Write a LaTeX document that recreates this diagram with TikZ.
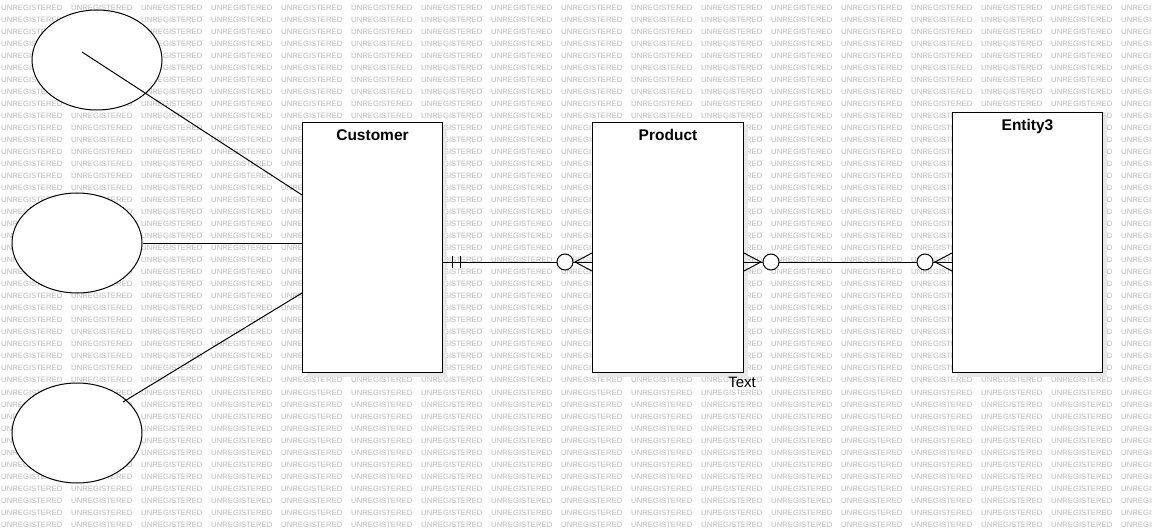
\documentclass[tikz,border=0pt]{standalone}
\usepackage{fontspec}
\setmainfont{Liberation Sans}
\usetikzlibrary{shapes.geometric}
\begin{document}
\begin{tikzpicture}[x=1pt,y=-1pt,
  wm/.style={text=black!27,font=\fontsize{7.7}{8}\selectfont,inner sep=0pt,anchor=west},
  entity/.style={draw,line width=1pt,fill=white,rectangle,anchor=north west,inner sep=0pt,
    preaction={draw=none,fill=black!9,transform canvas={shift={(4pt,-4pt)}}}},
  etitle/.style={font=\bfseries\fontsize{15.5}{18}\selectfont,anchor=north,inner sep=5pt,yshift=-2.5pt},
  attr/.style={draw,line width=1pt,fill=white,ellipse,inner sep=0pt,minimum width=130pt,minimum height=100pt},
  conn/.style={line width=1pt},
  opt/.style={draw,line width=1pt,fill=white},
]
\useasboundingbox (0,0) rectangle (1152,532);
\fill[white] (0,0) rectangle (1152,532);
% tiled background stamp
\begin{scope}
\clip (0,0) rectangle (1152,532);
\foreach \r in {0,...,44}
  \foreach \c in {0,...,16}
    \node[wm] (wm-\r-\c) at (\c*70+1, \r*12.03+7.4) {UNREGISTERED};
\end{scope}

% attributes
\node[attr] (a1) at (97,60) {};
\node[attr] (a2) at (77,243) {};
\node[attr] (a3) at (77,433) {};

% entities
\node[entity,minimum width=140pt,minimum height=250pt,
  label={[etitle]north:Customer}] (cust) at (302,122) {};
\node[entity,minimum width=151pt,minimum height=250pt,
  label={[etitle]north:Product}] (prod) at (592,122) {};
\node[entity,minimum width=150pt,minimum height=260pt,
  label={[etitle]north:Entity3}] (ent3) at (952,112) {};

% attribute links
\coordinate (a1in) at (82,52);
\coordinate (a3in) at (123,402);
\draw[conn] (a1in) -- ([yshift=-73pt]cust.north west);
\draw[conn] (a2.east) -- (cust.west |- a2.east);
\draw[conn] (a3in) -- ([yshift=-171pt]cust.north west);

% Customer -- Product : one and only one  /  zero or many
\coordinate (r1s) at ([yshift=-140pt]cust.north east);
\coordinate (r1e) at (prod.west |- r1s);
\draw[conn] (r1s) -- (r1e);
\draw[conn] ([xshift=9pt,yshift=6pt]r1s) -- ([xshift=9pt,yshift=-6pt]r1s);
\draw[conn] ([xshift=17pt,yshift=6pt]r1s) -- ([xshift=17pt,yshift=-6pt]r1s);
\draw[conn] ([yshift=9pt]r1e) -- ([xshift=-17pt]r1e) -- ([yshift=-9pt]r1e);
\draw[opt] ([xshift=-27pt]r1e) circle[radius=8pt];

% Product -- Entity3 : zero or many on both ends
\coordinate (r2s) at (prod.east |- r1s);
\coordinate (r2e) at (ent3.west |- r1s);
\draw[conn] (r2s) -- (r2e);
\draw[conn] ([yshift=9pt]r2s) -- ([xshift=17pt]r2s) -- ([yshift=-9pt]r2s);
\draw[opt] ([xshift=27pt]r2s) circle[radius=8pt];
\draw[conn] ([yshift=9pt]r2e) -- ([xshift=-17pt]r2e) -- ([yshift=-9pt]r2e);
\draw[opt] ([xshift=-27pt]r2e) circle[radius=8pt];

% free text
\node[font=\fontsize{15}{18}\selectfont,inner sep=0pt] (txt) at (742,382) {Text};
\end{tikzpicture}
\end{document}
